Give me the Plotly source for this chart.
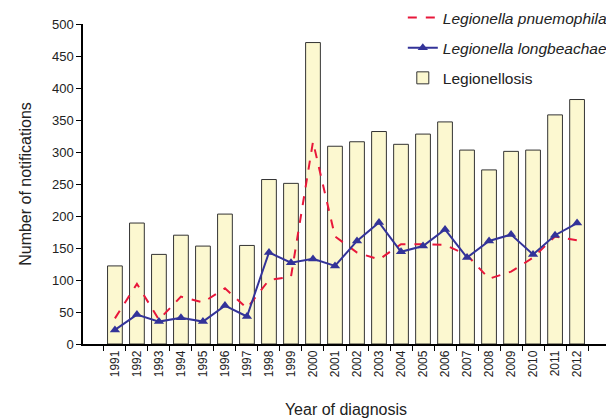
import plotly.graph_objects as go

years = [str(y) for y in range(1991, 2013)]
legionellosis = [122, 189, 140, 170, 153, 203, 154, 257, 251, 471, 309, 316,
                 332, 312, 328, 347, 303, 272, 301, 303, 358, 382]
longbeachae = [22, 46, 35, 41, 35, 60, 43, 143, 127, 133, 122, 161,
               190, 144, 153, 179, 135, 161, 171, 140, 170, 189]
pneumophila = [40, 94, 38, 74, 65, 87, 56, 100, 105, 316, 168, 143,
               132, 156, 156, 155, 139, 102, 113, 135, 168, 162]

fig = go.Figure()
fig.add_trace(go.Bar(x=years, y=legionellosis, name="Legionellosis",
                     marker=dict(color="#FCF8D0", line=dict(color="#333333", width=1)),
                     width=0.67, legendrank=3, legendgroup="c"))
fig.add_trace(go.Scatter(x=years, y=pneumophila, mode="lines",
                         name="<i>Legionella pnuemophila</i>",
                         line=dict(color="#E8173A", width=2, dash="dash"),
                         legendrank=1, legendgroup="a"))
fig.add_trace(go.Scatter(x=years, y=longbeachae, mode="lines+markers",
                         name="<i>Legionella longbeachae</i>",
                         line=dict(color="#333399", width=2),
                         marker=dict(symbol="triangle-up", size=9, color="#333399"),
                         legendrank=2, legendgroup="b"))

# page has an 8px body margin, so the figure is a bit smaller than the window
fig.update_layout(
    width=606, height=410,
    margin=dict(l=75, r=5, t=16, b=74, autoexpand=False),
    plot_bgcolor="white", paper_bgcolor="white",
    font=dict(family="Liberation Sans, Arial", size=12, color="#222222"),
    legend=dict(x=0.608, y=1.072, xanchor="left", yanchor="top",
                bgcolor="rgba(255,255,255,0)", font=dict(size=15.5),
                tracegroupgap=7, itemwidth=30),
    bargap=0.33,
)
fig.update_xaxes(type="category", showline=True, linecolor="black", linewidth=1.5,
                 ticks="outside", tickson="boundaries", ticklen=5, tickcolor="black",
                 tickangle=-90, tickfont=dict(size=12), automargin=False,
                 title=dict(text="Year of diagnosis", font=dict(size=16), standoff=28))
fig.update_yaxes(range=[0, 500], dtick=50, showline=True, linecolor="black",
                 linewidth=1.5, ticks="outside", ticklen=5, tickcolor="black",
                 showgrid=False, zeroline=False, tickfont=dict(size=13), automargin=False,
                 title=dict(text="Number of notifications", font=dict(size=16),
                            standoff=16))

fig.write_html("out.html")
